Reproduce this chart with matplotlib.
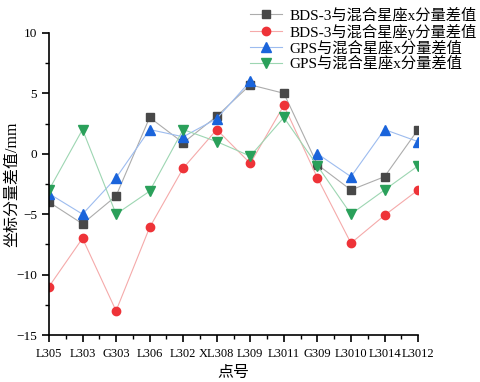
import matplotlib
matplotlib.use('Agg')
import matplotlib.pyplot as plt
import numpy as np
from matplotlib.ticker import MultipleLocator

plt.rcParams['font.family'] = ['Liberation Serif', 'Noto Sans CJK SC']
plt.rcParams['axes.unicode_minus'] = True

points = ['L305', 'L303', 'G303', 'L306', 'L302', 'XL308', 'L309',
          'L3011', 'G309', 'L3010', 'L3014', 'L3012']

bds_x = [-4.0, -5.8, -3.5, 3.0, 0.9, 3.1, 5.7, 5.0, -0.9, -3.0, -1.9, 2.0]
bds_y = [-11.0, -7.0, -13.0, -6.1, -1.2, 2.0, -0.8, 4.0, -2.0, -7.4, -5.1, -3.0]
gps_x = [-3.3, -5.0, -2.0, 2.0, 1.4, 2.9, 6.0, np.nan, 0.0, -1.9, 2.0, 1.0]
gps_y = [-3.0, 2.0, -5.0, -3.1, 2.0, 1.0, -0.2, 3.0, -1.0, -5.0, -3.0, -1.0]

labels = ['BDS-3与混合星座x分量差值', 'BDS-3与混合星座y分量差值',
          'GPS与混合星座x分量差值', 'GPS与混合星座x分量差值']

fig = plt.figure(figsize=(4.8, 3.82), dpi=100)
ax = fig.add_axes([0.102, 0.123, 0.769, 0.791])

x = np.arange(len(points))
styles = [
    (bds_x, 's', '#acacac', '#484848', 5.5),
    (bds_y, 'o', '#f5aaaa', '#ee3338', 6),
    (gps_x, '^', '#9dbcef', '#1a64db', 6.5),
    (gps_y, 'v', '#9dd6b2', '#2aa05a', 6.5),
]
for (vals, mk, lc, mc, ms), lab in zip(styles, labels):
    ax.plot(x, vals, color=lc, lw=0.8, marker=mk, ms=ms,
            markerfacecolor=mc, markeredgecolor=mc, label=lab)

ax.set_xlim(0, len(points) - 1)
ax.set_ylim(-15, 10)
ax.set_xticks(x)
ax.set_xticklabels(points, fontsize=9)
ax.xaxis.set_minor_locator(MultipleLocator(0.5))
ax.yaxis.set_major_locator(MultipleLocator(5))
ax.yaxis.set_minor_locator(MultipleLocator(2.5))
ax.tick_params(axis='both', which='major', direction='out', length=5, width=1.2, labelsize=9.5)
ax.tick_params(axis='x', labelsize=9)
ax.tick_params(axis='both', which='minor', direction='out', length=3, width=1.0)
ax.tick_params(axis='x', pad=4)

for s in ['top', 'right']:
    ax.spines[s].set_visible(False)
for s in ['left', 'bottom']:
    ax.spines[s].set_linewidth(1.2)

ax.set_xlabel('点号', fontsize=11.5, labelpad=4)
ax.set_ylabel('坐标分量差值/mm', fontsize=11.5)
ax.yaxis.set_label_coords(-0.078, 0.5)

fig.legend(loc='upper right', bbox_to_anchor=(1.0, 0.987), frameon=False,
           fontsize=11, handlelength=2.1, handletextpad=0.5,
           labelspacing=0.08, borderaxespad=0.1, borderpad=0.1)

fig.savefig('out.png', dpi=100)
